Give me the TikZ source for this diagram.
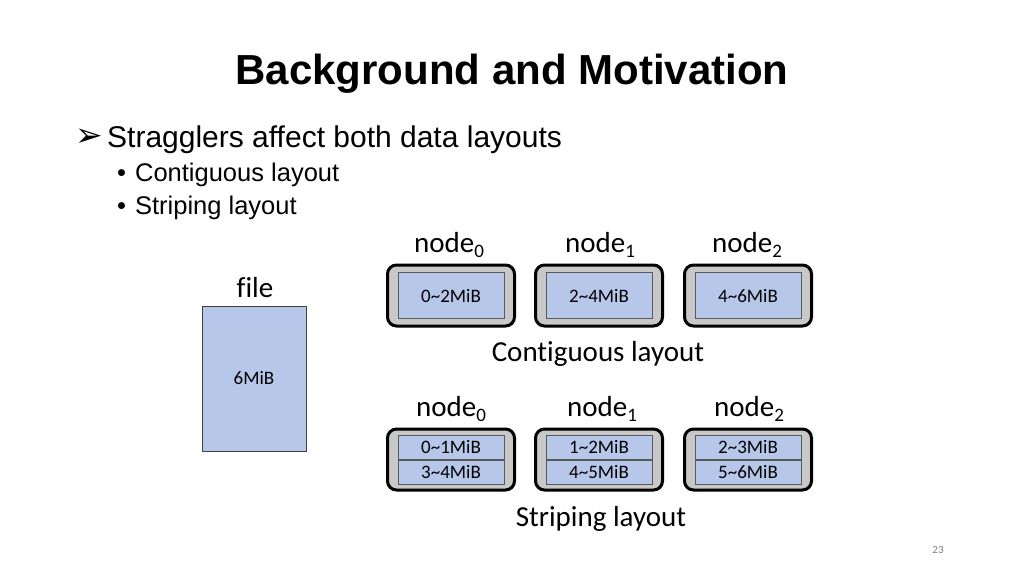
\documentclass[tikz,border=0pt]{standalone}
\usepackage{fontspec}
\setmainfont{Liberation Sans}
\newfontfamily\calfont[Ligatures=NoCommon]{Carlito}
\newfontfamily\symfont{DejaVu Sans}
\usepackage{xcolor}
\definecolor{blockblue}{RGB}{183,199,233}
\definecolor{nodegray}{RGB}{200,200,200}
\newcommand{\lowidx}[1]{\raisebox{-5pt}{\fontsize{19}{19}\selectfont #1}}

\begin{document}
\begin{tikzpicture}[x=1pt,y=-1pt,
  nodebox/.style={draw=black,line width=3pt,fill=nodegray,rounded corners=9pt,
    minimum width=127pt,minimum height=61pt,inner sep=0pt},
  chunk/.style={draw=black!65,line width=0.8pt,fill=blockblue,minimum width=106pt,
    inner sep=0pt,text height=13pt,text depth=0pt,font=\calfont\fontsize{19}{19}\selectfont},
  tag/.style={font=\calfont\fontsize{29}{29}\selectfont,anchor=base,inner sep=0pt},
  bullet/.style={anchor=base west,inner sep=0pt}]
\useasboundingbox (0,0) rectangle (1024,576);

% slide text
\node[anchor=base,inner sep=0pt,font=\bfseries\fontsize{42}{42}\selectfont] (title) at (512,84) {Background and Motivation};
\node[bullet,font=\symfont\fontsize{33}{33}\selectfont] (arr) at (75,146) {➢};
\node[bullet,font=\fontsize{30}{30}\selectfont] (main) at (107,147) {Stragglers affect both data layouts};
\node[bullet,font=\fontsize{25.5}{25.5}\selectfont] (sub1) at (117,181) {\textbullet\hspace{9pt}Contiguous layout};
\node[bullet,font=\fontsize{25.5}{25.5}\selectfont] (sub2) at (117,214) {\textbullet\hspace{9pt}Striping layout};

% file
\node[tag] (filelbl) at (255,297) {file};
\node[draw=black!75,line width=0.8pt,fill=blockblue,minimum width=104pt,minimum height=145pt,
  inner sep=0pt,font=\calfont\fontsize{19}{19}\selectfont] (file) at (254,378.5) {6MiB};

% contiguous layout
\node[nodebox] (c0) at (451,295.5) {};
\node[nodebox] (c1) at (599,295.5) {};
\node[nodebox] (c2) at (748,295.5) {};
\node[chunk,minimum height=46pt] (c0a) at (c0.center) {0\textasciitilde2MiB};
\node[chunk,minimum height=46pt] (c1a) at (c1.center) {2\textasciitilde4MiB};
\node[chunk,minimum height=46pt] (c2a) at (c2.center) {4\textasciitilde6MiB};
\node[tag] (cl0) at (449,252) {node\lowidx{0}};
\node[tag] (cl1) at (600,252) {node\lowidx{1}};
\node[tag] (cl2) at (747,252) {node\lowidx{2}};
\node[tag] (ctitle) at (598,361) {Contiguous layout};

% striping layout
\node[nodebox] (s0) at (451,459.5) {};
\node[nodebox] (s1) at (599,459.5) {};
\node[nodebox] (s2) at (748,459.5) {};
\node[chunk,minimum height=24pt,anchor=south] (s0a) at (s0.center) {0\textasciitilde1MiB};
\node[chunk,minimum height=24pt,anchor=north] (s0b) at (s0.center) {3\textasciitilde4MiB};
\node[chunk,minimum height=24pt,anchor=south] (s1a) at (s1.center) {1\textasciitilde2MiB};
\node[chunk,minimum height=24pt,anchor=north] (s1b) at (s1.center) {4\textasciitilde5MiB};
\node[chunk,minimum height=24pt,anchor=south] (s2a) at (s2.center) {2\textasciitilde3MiB};
\node[chunk,minimum height=24pt,anchor=north] (s2b) at (s2.center) {5\textasciitilde6MiB};
\node[tag] (sl0) at (451,416) {node\lowidx{0}};
\node[tag] (sl1) at (602,416) {node\lowidx{1}};
\node[tag] (sl2) at (749,416) {node\lowidx{2}};
\node[tag] (stitle) at (601,526) {Striping layout};

\node[anchor=base,inner sep=0pt,text=gray,font=\calfont\fontsize{11}{11}\selectfont] (pagenum) at (938,553) {23};
\end{tikzpicture}
\end{document}
